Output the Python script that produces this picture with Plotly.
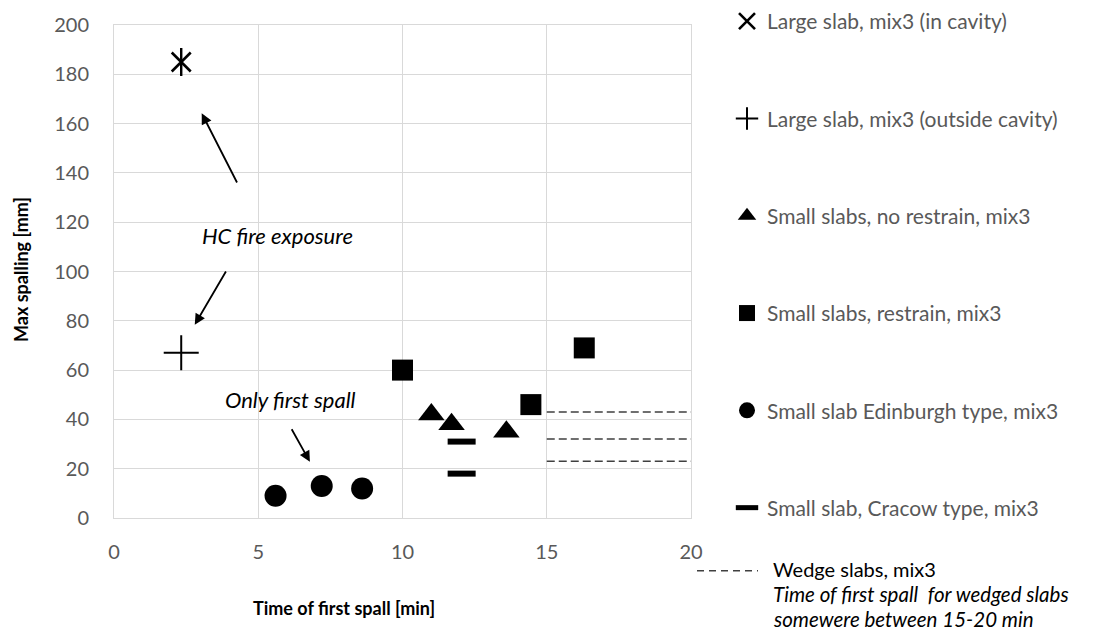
import plotly.graph_objects as go

# Time of first spall [min] and max spalling depth [mm] per test series
large_cavity_time = [2.33]
large_cavity_depth = [185]

large_outside_time = [2.33]
large_outside_depth = [67]

small_free_time = [11.0, 11.7, 13.6]
small_free_depth = [42, 38, 35]

small_restrained_time = [10.0, 14.45, 16.3]
small_restrained_depth = [60, 46, 69]

edinburgh_time = [5.6, 7.2, 8.6]
edinburgh_depth = [9, 13, 12]

cracow_time = [12.05, 12.05]
cracow_depth = [31, 18]

# Wedge slabs: first spall somewhere in the 15-20 min window
wedge_window = [15, 20]
wedge_depth = [43, 32, 23]

x_ticks = [0, 5, 10, 15, 20]
y_ticks = [0, 20, 40, 60, 80, 100, 120, 140, 160, 180, 200]

FONT = "Lato"
GREY = "#595959"
BLACK = "#000000"

# plot-area geometry in pixels (used to place the keys outside the axes)
L, R, T, B = 114, 691, 25, 518


def px_x(p):
    return (p - L) / (R - L)


def px_y(p):
    return (B - p) / (B - T)


fig = go.Figure()

# wedge slab ranges as dashed horizontal segments
wx, wy = [], []
for d in wedge_depth:
    wx += [wedge_window[0], wedge_window[1], None]
    wy += [d, d, None]
fig.add_trace(go.Scatter(
    x=wx, y=wy, mode="lines", showlegend=False, hoverinfo="skip",
    line=dict(color="#404040", width=1.5, dash="8px,4px"),
))

# asterisk = x-thin plus vertical stroke
fig.add_trace(go.Scatter(
    x=large_cavity_time, y=large_cavity_depth, mode="markers",
    name="Large slab, mix3 (in cavity)", legendgroup="g1",
    marker=dict(symbol="x-thin", size=19, color=BLACK,
                line=dict(color=BLACK, width=2.6)),
))
fig.add_trace(go.Scatter(
    x=large_cavity_time, y=large_cavity_depth, mode="markers",
    showlegend=False, legendgroup="g1",
    marker=dict(symbol="line-ns", size=20, color=BLACK,
                line=dict(color=BLACK, width=2.4)),
))
fig.add_trace(go.Scatter(
    x=large_outside_time, y=large_outside_depth, mode="markers",
    name="Large slab, mix3 (outside cavity)", legendgroup="g2",
    marker=dict(symbol="cross-thin", size=25, color=BLACK,
                line=dict(color=BLACK, width=2)),
))
fig.add_trace(go.Scatter(
    x=small_free_time, y=small_free_depth, mode="markers",
    name="Small slabs, no restrain, mix3", legendgroup="g3",
    marker=dict(symbol="triangle-up", size=23, color=BLACK),
))
fig.add_trace(go.Scatter(
    x=small_restrained_time, y=small_restrained_depth, mode="markers",
    name="Small slabs, restrain, mix3", legendgroup="g4",
    marker=dict(symbol="square", size=21, color=BLACK),
))
fig.add_trace(go.Scatter(
    x=edinburgh_time, y=edinburgh_depth, mode="markers",
    name="Small slab Edinburgh type, mix3", legendgroup="g5",
    marker=dict(symbol="circle", size=22, color=BLACK),
))
fig.add_trace(go.Scatter(
    x=cracow_time, y=cracow_depth, mode="markers",
    name="Small slab, Cracow type, mix3", legendgroup="g6",
    marker=dict(symbol="line-ew", size=20, color=BLACK,
                line=dict(color=BLACK, width=6)),
))

# wedge slab key text: (text, centre y in px, font size)
wedge_lines = [
    ("Wedge slabs, mix3", 569, 20),
    ("<i>Time of first spall  for wedged slabs</i>", 594, 20.5),
    ("<i>somewere between 15-20 min</i>", 619, 20.5),
]

annotations = [
    # axis titles
    dict(text="<b>Time of first spall [min]</b>", xref="paper", yref="paper",
         x=px_x(344), y=px_y(608), xanchor="center", yanchor="middle",
         showarrow=False, font=dict(family=FONT, size=18, color=BLACK)),
    dict(text="<b>Max spalling [mm]</b>", xref="paper", yref="paper",
         x=px_x(21), y=px_y(270), xanchor="center", yanchor="middle",
         textangle=-90, showarrow=False,
         font=dict(family=FONT, size=18, color=BLACK)),
    # notes inside the plot
    dict(text="<i>HC fire exposure</i>", xref="x", yref="y", x=5.68, y=114.8,
         showarrow=False, font=dict(family=FONT, size=22, color=BLACK)),
    dict(text="<i>Only first spall</i>", xref="x", yref="y", x=6.13, y=47.9,
         showarrow=False, font=dict(family=FONT, size=22, color=BLACK)),
    # arrows
    dict(x=3.04, y=164.2, ax=4.29, ay=135.5, xref="x", yref="y",
         axref="x", ayref="y", text="", showarrow=True, arrowhead=2,
         arrowsize=1.2, arrowwidth=1.8, arrowcolor=BLACK),
    dict(x=2.80, y=78.4, ax=3.91, ay=100.6, xref="x", yref="y",
         axref="x", ayref="y", text="", showarrow=True, arrowhead=2,
         arrowsize=1.2, arrowwidth=1.8, arrowcolor=BLACK),
    dict(x=6.79, y=22.8, ax=6.13, ay=36.6, xref="x", yref="y",
         axref="x", ayref="y", text="", showarrow=True, arrowhead=2,
         arrowsize=1.2, arrowwidth=1.8, arrowcolor=BLACK),
]
for text, ypx, size in wedge_lines:
    annotations.append(dict(
        text=text, xref="paper", yref="paper", x=px_x(772), y=px_y(ypx),
        xanchor="left", yanchor="middle", showarrow=False, borderpad=0,
        font=dict(family=FONT, size=size, color=BLACK),
    ))

shapes = [
    dict(type="line", xref="paper", yref="paper",
         x0=px_x(697), x1=px_x(758), y0=px_y(570.7), y1=px_y(570.7),
         line=dict(color="#404040", width=1.5, dash="7px,5px")),
]

fig.update_layout(
    width=1105, height=640,
    margin=dict(l=L, r=1105 - R, t=T, b=640 - B, autoexpand=False),
    paper_bgcolor="white", plot_bgcolor="white",
    font=dict(family=FONT, size=18, color=GREY),
    showlegend=True,
    legend=dict(
        x=px_x(727), y=px_y(1), xanchor="left", yanchor="top",
        tracegroupgap=67, maxheight=640,
        font=dict(family=FONT, size=21, color=GREY),
        bgcolor="rgba(0,0,0,0)", itemwidth=30,
    ),
    xaxis=dict(
        range=[0, 20], tickvals=x_ticks, ticktext=[str(v) for v in x_ticks],
        showgrid=True, gridcolor="#d9d9d9", gridwidth=1,
        zeroline=False, showline=True, linecolor="#d9d9d9", mirror=True,
        ticks="", ticklabelstandoff=16,
        tickfont=dict(family=FONT, size=20, color=GREY),
    ),
    yaxis=dict(
        range=[0, 200], tickvals=y_ticks, ticktext=[str(v) for v in y_ticks],
        showgrid=True, gridcolor="#d9d9d9", gridwidth=1,
        zeroline=False, showline=True, linecolor="#d9d9d9", mirror=True,
        ticks="", ticklabelstandoff=20,
        tickfont=dict(family=FONT, size=20, color=GREY),
    ),
    annotations=annotations,
    shapes=shapes,
)

fig.write_html("out.html")
